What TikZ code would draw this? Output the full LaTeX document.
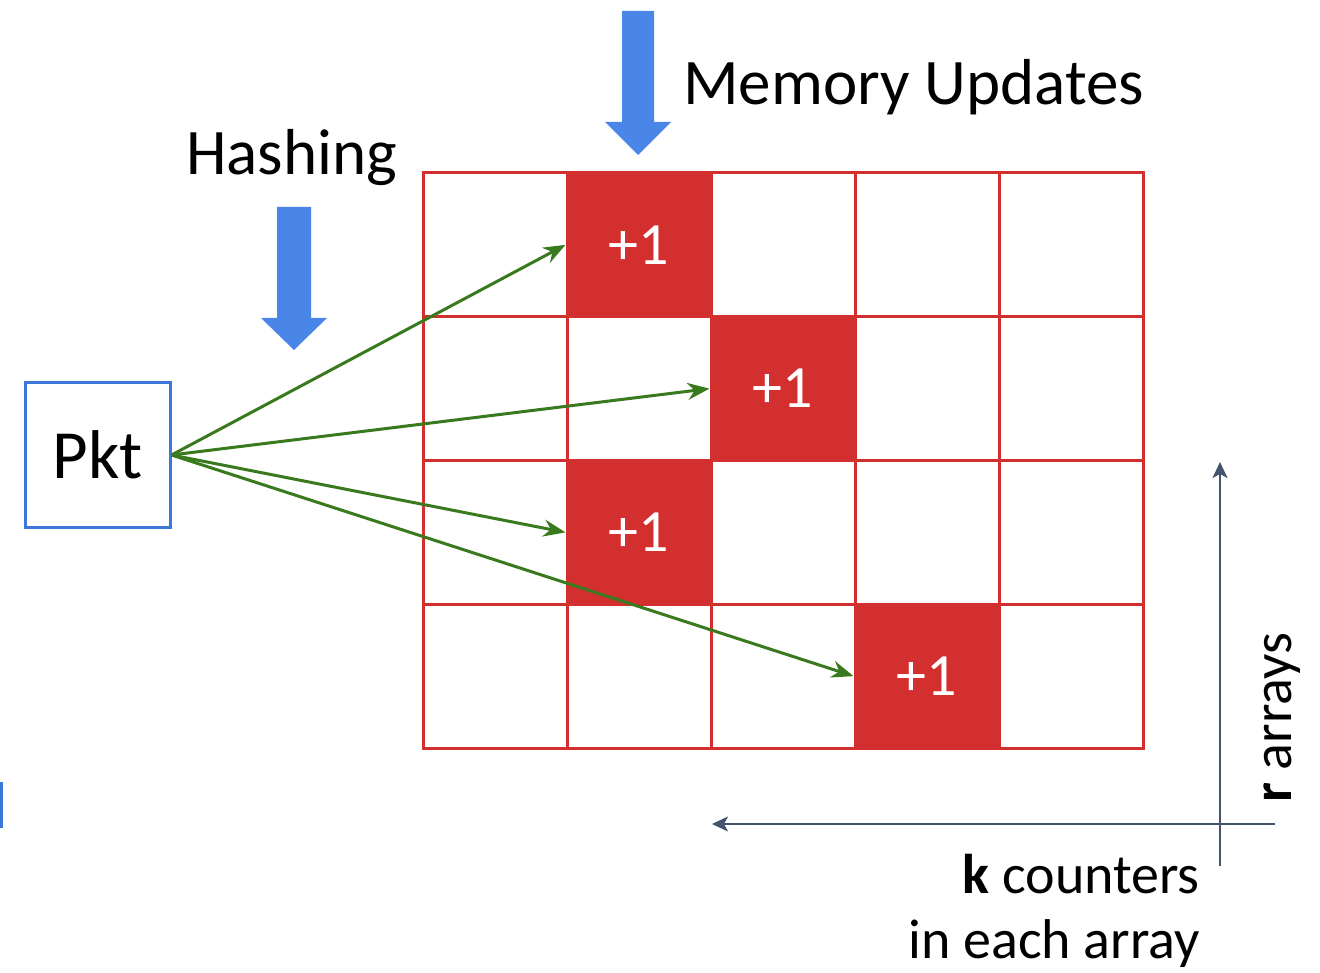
\documentclass[tikz,border=0pt]{standalone}
\usepackage{fontspec}
\setmainfont{Carlito}
\usetikzlibrary{arrows.meta}
\definecolor{gridred}{HTML}{D32F2F}
\definecolor{hashblue}{HTML}{4A86E8}
\definecolor{pktblue}{HTML}{3C78D8}
\definecolor{arrgreen}{HTML}{3A7A1E}
\definecolor{slate}{HTML}{44546A}
\tikzset{
  cell/.style={draw=gridred, line width=3pt, minimum width=144pt, minimum height=143.75pt, inner sep=0pt, anchor=center},
  hot/.style={cell, fill=gridred, text=white, font=\fontsize{60}{60}\selectfont},
  hasharrow/.style={fill=hashblue, draw=none},
  conn/.style={draw=arrgreen, line width=3pt, -{Stealth[length=22pt,width=17pt]}},
  axis/.style={draw=slate, line width=2pt, -{Stealth[length=16pt,width=15pt,inset=4pt]}},
  lbl/.style={inner sep=0pt, font=\fontsize{65}{65}\selectfont},
  small/.style={inner sep=0pt, font=\fontsize{56}{56}\selectfont}
}
\begin{document}
\begin{tikzpicture}[x=1pt,y=-1pt]
\useasboundingbox (0,0) rectangle (1320,973);
% grid
\foreach \r in {0,...,3}{
  \foreach \c in {0,...,4}{
    \node[cell] (c\r\c) at ({423+144*\c+72},{173+143.75*\r+71.875}) {};
  }
}
\node[hot] (h0) at (c01) {+1};
\node[hot] (h1) at (c12) {+1};
\node[hot] (h2) at (c21) {+1};
\node[hot] (h3) at (c33) {+1};
% packet
\node[draw=pktblue, line width=3pt, minimum width=145pt, minimum height=144pt, inner sep=0pt, font=\fontsize{69}{69}\selectfont] (pkt) at (97.5,455) {Pkt};
\draw[conn] (pkt.east) -- (h0.west);
\draw[conn] (pkt.east) -- (h1.west);
\draw[conn] (pkt.east) -- (h2.west);
\draw[conn] (pkt.east) -- (h3.west);
% hashing arrows
\fill[hasharrow] (277,207) -- (311,207) -- (311,318) -- (327,318) -- (294,350) -- (261,318) -- (277,318) -- cycle;
\fill[hasharrow] (622,11) -- (654,11) -- (654,122) -- (671,122) -- (638,155) -- (605,122) -- (622,122) -- cycle;
\node[lbl, anchor=base west] (hashing) at (186,175) {Hashing};
\node[lbl, anchor=base west] (mem) at (683,105) {Memory Updates};
% axes
\coordinate (vs) at (1220,866);
\coordinate (ve) at (1220,462);
\coordinate (hs) at (1275,824);
\coordinate (he) at (712,824);
\draw[axis] (vs) -- (ve);
\draw[axis] (hs) -- (he);
\node[small, anchor=base east] (k1) at (1200,893) {\textbf{k} counters};
\node[small, anchor=base east] (k2) at (1200,958) {in each array};
\node[small, anchor=base west, rotate=90] (r) at (1291,803) {\textbf{r} arrays};
% left edge mark
\fill[color=pktblue] (0,782) rectangle (2.5,828);
\end{tikzpicture}
\end{document}
